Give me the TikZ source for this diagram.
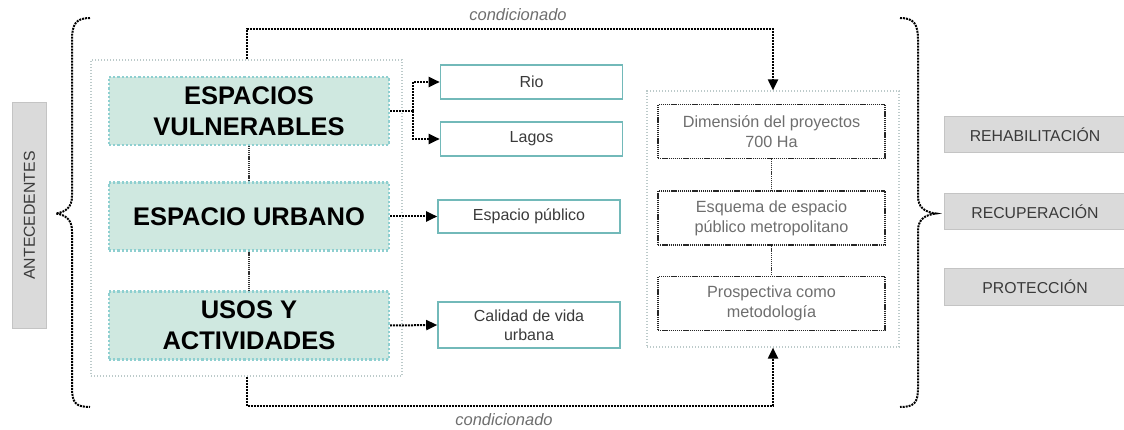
\documentclass[tikz,border=0pt]{standalone}
\usepackage{fontspec}
\setmainfont{Liberation Sans}
\usetikzlibrary{arrows.meta,positioning}

\definecolor{mint}{HTML}{CFE8E0}
\definecolor{mintline}{HTML}{8ECFD0}
\definecolor{tealline}{HTML}{72B9B9}
\definecolor{softline}{HTML}{BCCACA}
\definecolor{boxgray}{HTML}{DADADA}
\definecolor{boxline}{HTML}{C4C4C4}
\definecolor{txtgray}{HTML}{6E6E6E}
\definecolor{txtdark}{HTML}{3A3A3A}

\tikzset{
	dotline/.style={draw=black,line width=2pt,dash pattern=on 2pt off 1pt},
	thinline/.style={draw=black!80,line width=1.1pt,dash pattern=on 1.1pt off 0.8pt},
	softbox/.style={draw=softline,line width=1.2pt,dash pattern=on 1.2pt off 1.8pt,inner sep=0pt},
	mintbox/.style={fill=mint,draw=mintline,line width=2.2pt,dash pattern=on 2.2pt off 2pt,
		font=\fontsize{25.5}{31}\selectfont\bfseries,text=black,align=center,inner sep=0pt,
		minimum width=280pt,minimum height=68pt},
	tealbox/.style={draw=tealline,line width=1.6pt,font=\fontsize{16}{19}\selectfont,
		text=txtdark,align=center,inner sep=0pt,minimum width=182pt},
	innerbox/.style={draw=black!85,line width=1.3pt,dash pattern=on 1.3pt off 0.8pt,
		font=\fontsize{16.2}{20}\selectfont,text=txtgray,align=center,inner sep=0pt,
		minimum width=227pt,minimum height=54pt},
	graybox/.style={fill=boxgray,draw=boxline,line width=1pt,font=\fontsize{15.8}{18}\selectfont,
		text=txtdark,inner sep=0pt},
	tip/.style={-{Triangle[length=11pt,width=10pt]}}
}

\begin{document}
\begin{tikzpicture}[x=1pt,y=-1pt]
	\useasboundingbox (0,0) rectangle (1124,430);
	\clip (0,0) rectangle (1124,430);

	% grupos
	\node[softbox,minimum width=311pt,minimum height=316pt] (groupL) at (246.5,218) {};
	\node[softbox,minimum width=252pt,minimum height=256pt] (groupR) at (773,219) {};

	\begin{scope}[every node/.style={mintbox}]
		\node (vul) at (249,111) {ESPACIOS\\VULNERABLES};
		\node (urb) at (249,216.5) {ESPACIO URBANO};
		\node (usos) at (249,325.5) {USOS Y\\ACTIVIDADES};
	\end{scope}

	\begin{scope}[every node/.style={tealbox}]
		\node[minimum height=34pt] (rio) at (531.5,82) {Rio};
		\node[minimum height=34pt] (lagos) at (531.5,139) {Lagos};
		\node[minimum height=33pt] (pub) at (529,216.5) {Espacio público};
		\node[minimum height=46pt] (cal) at (529,325) {Calidad de vida\\urbana};
	\end{scope}

	\begin{scope}[every node/.style={innerbox}]
		\node (dim) at (771.5,131.5) {Dimensión del proyectos\\700 Ha};
		\node (esq) at (771.5,218) {Esquema de espacio\\público metropolitano};
		\node (pros) at (771.5,303.5) {Prospectiva como\\metodología};
	\end{scope}

	\begin{scope}[every node/.style={graybox,minimum width=182pt,minimum height=36pt}]
		\node (reh) at (1035,135) {REHABILITACIÓN};
		\node (rec) at (1035,212) {RECUPERACIÓN};
		\node (prot) at (1035,287) {PROTECCIÓN};
	\end{scope}
	\node[graybox,minimum width=225pt,minimum height=34pt,rotate=90] (ante) at (29.5,215.5) {ANTECEDENTES};

	% llaves
	\draw[dotline] (90,18) .. controls (76,18) and (72,24) .. (72,40) -- (72,196)
		.. controls (72,207) and (66,212) .. (56,213.5) .. controls (66,215) and (72,220) .. (72,231)
		-- (72,388) .. controls (72,403) and (76,407) .. (90,407);
	\draw[dotline] (900,18) .. controls (914,18) and (918,24) .. (918,40) -- (918,196)
		.. controls (918,207) and (924,212) .. (936,213.5) .. controls (924,215) and (918,220) .. (918,231)
		-- (918,388) .. controls (918,403) and (914,407) .. (900,407);

	% conexiones
	\coordinate (split) at (413,111);
	\draw[dotline] (vul.east) -- (split);
	\draw[dotline,tip] (split) |- (rio.west);
	\draw[dotline,tip] (split) |- (lagos.west);
	\draw[dotline,tip] (urb.east) -- (pub.west);
	\draw[dotline,tip] (usos.east) -- (cal.west);
	\draw[thinline] (vul) -- (urb);
	\draw[thinline] (urb) -- (usos);
	\draw[thinline] (dim) -- (esq);
	\draw[thinline] (esq) -- (pros);
	\draw[dotline,tip] (groupL.north) -- ++(0,-30) -| (groupR.north);
	\draw[dotline,tip] (groupL.south) -- ++(0,29) -| (groupR.south);

	\node[font=\fontsize{16.5}{19}\selectfont\itshape,text=txtgray] (condA) at (518,15) {condicionado};
	\node[font=\fontsize{16.5}{19}\selectfont\itshape,text=txtgray] (condB) at (504,420) {condicionado};
\end{tikzpicture}
\end{document}
